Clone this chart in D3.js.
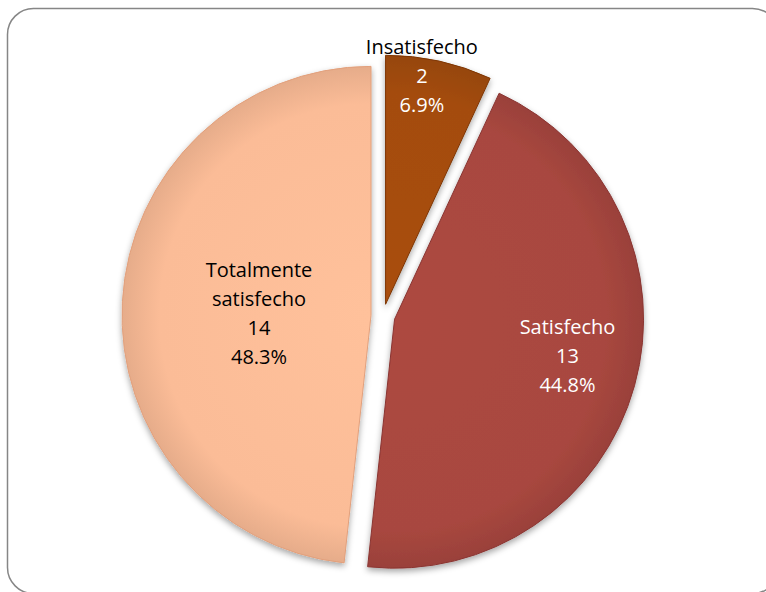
<!DOCTYPE html>
<html>
<head>
<meta charset="utf-8">
<script src="https://cdn.jsdelivr.net/npm/d3@7/dist/d3.min.js"></script>
<style>
  body { margin: 0; background: #fff; }
  svg { display: block; }
</style>
</head>
<body>
<div id="chart"></div>
<script>
// data
var categories = ["Insatisfecho", "Satisfecho", "Totalmente satisfecho"];
var counts = [2, 13, 14];
var nameLines = [["Insatisfecho"], ["Satisfecho"], ["Totalmente", "satisfecho"]];
var sliceColors = ["#a44c0c", "#a8473f", "#fbbc97"];
var edgeColors = ["#7e3505", "#8a3532", "#e2a07c"];
var nameColors = ["#000", "#fff", "#000"];
var valueColors = ["#fff", "#fff", "#000"];

// label placement (radius fraction, angle shift in degrees)
var labelFrac = [0.93, 0.71, 0.45];
var labelShift = [-3.4, -3.5, -1.9];

function drawPie() {
    var width = 766, height = 592;
    var cx = 383, cy = 316, radius = 249, explode = 12, lineH = 29;

    var svg = d3.select("#chart").append("svg")
        .attr("width", width)
        .attr("height", height);

    // chart frame
    svg.append("rect")
        .attr("x", 7.5).attr("y", 8.5)
        .attr("width", 771).attr("height", 585)
        .attr("rx", 26).attr("ry", 26)
        .attr("fill", "#fff")
        .attr("stroke", "#868686")
        .attr("stroke-width", 1.5);

    var defs = svg.append("defs");
    var shadow = defs.append("filter").attr("id", "shadow")
        .attr("x", "-10%").attr("y", "-10%").attr("width", "120%").attr("height", "120%");
    shadow.append("feDropShadow")
        .attr("dx", 0).attr("dy", 3).attr("stdDeviation", 3)
        .attr("flood-color", "#000").attr("flood-opacity", 0.35);

    sliceColors.forEach(function(c, i) {
        var g = defs.append("radialGradient").attr("id", "grad" + i)
            .attr("gradientUnits", "userSpaceOnUse")
            .attr("cx", 0).attr("cy", 0).attr("r", radius);
        g.append("stop").attr("offset", "0%").attr("stop-color", d3.color(c).brighter(0.08));
        g.append("stop").attr("offset", "85%").attr("stop-color", c);
        g.append("stop").attr("offset", "100%").attr("stop-color", d3.color(c).darker(0.25));
    });

    var total = d3.sum(counts);
    var pct = d3.format(".1%");

    var pie = d3.pie().sort(null).value(function(d) { return d; });
    var arcs = pie(counts);

    var arc = d3.arc().innerRadius(0).outerRadius(radius);

    var slices = svg.append("g").selectAll("g")
        .data(arcs)
        .enter()
        .append("g")
        .attr("transform", function(d) {
            var a = (d.startAngle + d.endAngle) / 2;
            return "translate(" + (cx + explode * Math.sin(a)) + "," + (cy - explode * Math.cos(a)) + ")";
        });

    slices.append("path")
        .attr("d", arc)
        .attr("fill", function(d, i) { return "url(#grad" + i + ")"; })
        .attr("stroke", function(d, i) { return edgeColors[i]; })
        .attr("stroke-width", 1)
        .attr("filter", "url(#shadow)");

    // labels
    slices.each(function(d, i) {
        var a = (d.startAngle + d.endAngle) / 2 + labelShift[i] * Math.PI / 180;
        var r = radius * labelFrac[i];
        var lx = r * Math.sin(a), ly = -r * Math.cos(a);
        var lines = nameLines[i].map(function(t) { return { t: t, c: nameColors[i] }; })
            .concat([{ t: String(counts[i]), c: valueColors[i] },
                     { t: pct(counts[i] / total), c: valueColors[i] }]);
        var n = lines.length;
        d3.select(this).append("text")
            .attr("font-family", "'Open Sans', 'Noto Sans', sans-serif")
            .attr("font-size", "20px")
            .attr("text-anchor", "middle")
            .selectAll("tspan")
            .data(lines)
            .enter()
            .append("tspan")
            .attr("x", lx)
            .attr("y", function(l, j) { return ly + (j - (n - 1) / 2) * lineH; })
            .attr("dy", "0.36em")
            .attr("fill", function(l) { return l.c; })
            .text(function(l) { return l.t; });
    });
}

window.onload = drawPie;
</script>
</body>
</html>
